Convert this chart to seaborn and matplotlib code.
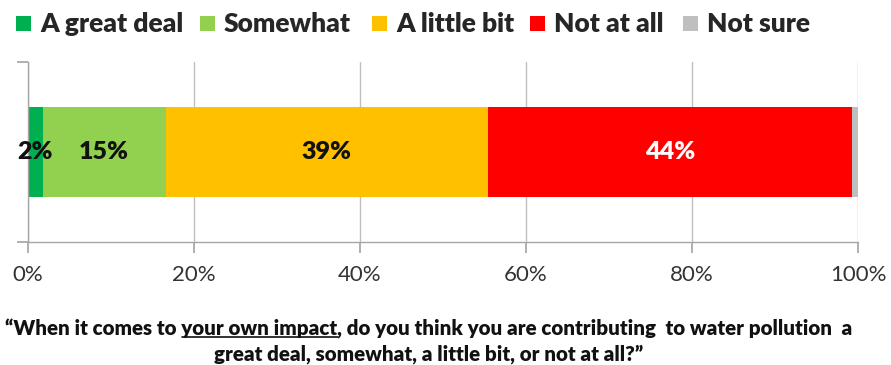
import matplotlib
matplotlib.use("Agg")
import matplotlib.pyplot as plt
from matplotlib.patches import Patch
from matplotlib.lines import Line2D
from matplotlib.legend import Legend
import numpy as np
import pandas as pd
import seaborn as sns

# Survey responses (share of respondents, %)
categories = ["A great deal", "Somewhat", "A little bit", "Not at all", "Not sure"]
shares = [1.8, 14.8, 38.8, 43.9, 0.7]
colors = ["#00B050", "#92D050", "#FFC000", "#FF0000", "#BFBFBF"]
label_colors = ["#111111", "#111111", "#111111", "#FFFFFF", None]
tick_values = [0, 20, 40, 60, 80, 100]
tick_labels = ["0%", "20%", "40%", "60%", "80%", "100%"]
question_prefix = "\u201cWhen it comes to "
question_emph = "your own impact"
question_rest = ", do you think you are contributing  to water pollution  a"
question_line2 = "great deal, somewhat, a little bit, or not at all?\u201d"

sns.set_theme(style="white")
plt.rcParams["font.family"] = ["Lato", "DejaVu Sans"]

W_PX, H_PX = 891, 365
fig = plt.figure(figsize=(W_PX / 100, H_PX / 100), dpi=100)
ax = fig.add_axes([0.0311, 0.338, 0.932, 0.491])

# Stacked horizontal bar: draw cumulative totals from largest to smallest
cum = np.cumsum(shares)
df = pd.DataFrame({"row": ["all"] * len(categories), "cum": cum, "cat": categories})
for i in range(len(categories) - 1, -1, -1):
    sns.barplot(data=df.iloc[[i]], x="cum", y="row", orient="h", color=colors[i],
                width=0.5, saturation=1, ax=ax, zorder=2, linewidth=0)

# Value labels centered on each segment
starts = np.concatenate([[0], cum[:-1]])
for s, v, c in zip(starts, shares, label_colors):
    if c is None:
        continue
    ax.text(s + v / 2, 0, f"{v:.0f}%", ha="center", va="center",
            fontsize=18, fontweight="heavy", color=c, zorder=3)

ax.set_xlim(0, 100)
ax.set_ylim(0.5, -0.5)
ax.set_xticks(tick_values)
ax.set_xticklabels(tick_labels, fontsize=16, color="#333333")
ax.set_yticks([-0.5, 0.5])
ax.set_yticklabels([])
ax.set_xlabel("")
ax.set_ylabel("")
ax.grid(axis="x", color="#BFBFBF", linewidth=1, zorder=0)
ax.grid(axis="y", visible=False)
ax.set_axisbelow(True)
for side in ["top", "right"]:
    ax.spines[side].set_visible(False)
for side in ["left", "bottom"]:
    ax.spines[side].set_color("#A6A6A6")
    ax.spines[side].set_linewidth(1)
ax.tick_params(axis="x", length=8, color="#A6A6A6", direction="out", pad=9, bottom=True)
ax.tick_params(axis="y", length=8, color="#A6A6A6", direction="out", left=True)

# Legend along the top, one entry per slot
legend_x_px = [16, 200, 372, 530, 683]
for name, col, xp in zip(categories, colors, legend_x_px):
    leg = Legend(fig, [Patch(facecolor=col, edgecolor="none")], [name],
                 loc="center left", bbox_to_anchor=(xp / W_PX, 1 - 24.5 / H_PX),
                 bbox_transform=fig.transFigure, frameon=False, borderpad=0,
                 borderaxespad=0, handlelength=0.57, handleheight=0.5,
                 handletextpad=0.34, prop={"weight": "heavy", "size": 19})
    fig.add_artist(leg)

# Question caption with underlined emphasis
cap_size = 14.8
cx = 429 / W_PX
y1, y2 = 0.100, 0.031
full = question_prefix + question_emph + question_rest
t1 = fig.text(cx, y1, full, ha="center", va="center", fontsize=cap_size,
              fontweight="heavy", color="#111111")
fig.text(cx, y2, question_line2, ha="center", va="center", fontsize=cap_size,
         fontweight="heavy", color="#111111")

fig.canvas.draw()
renderer = fig.canvas.get_renderer()
bb_full = t1.get_window_extent(renderer)
probe = fig.text(0, 0, question_prefix, fontsize=cap_size, fontweight="heavy")
w_prefix = probe.get_window_extent(renderer).width
probe.set_text(question_prefix + question_emph)
w_emph_end = probe.get_window_extent(renderer).width
probe.remove()
W, H = fig.bbox.width, fig.bbox.height
x0 = (bb_full.x0 + w_prefix) / W
x1 = (bb_full.x0 + w_emph_end) / W
yl = (bb_full.y0 + 2) / H
fig.add_artist(Line2D([x0, x1], [yl, yl], color="#111111", linewidth=1.2,
                      transform=fig.transFigure))

fig.savefig("out.png", dpi=100)
